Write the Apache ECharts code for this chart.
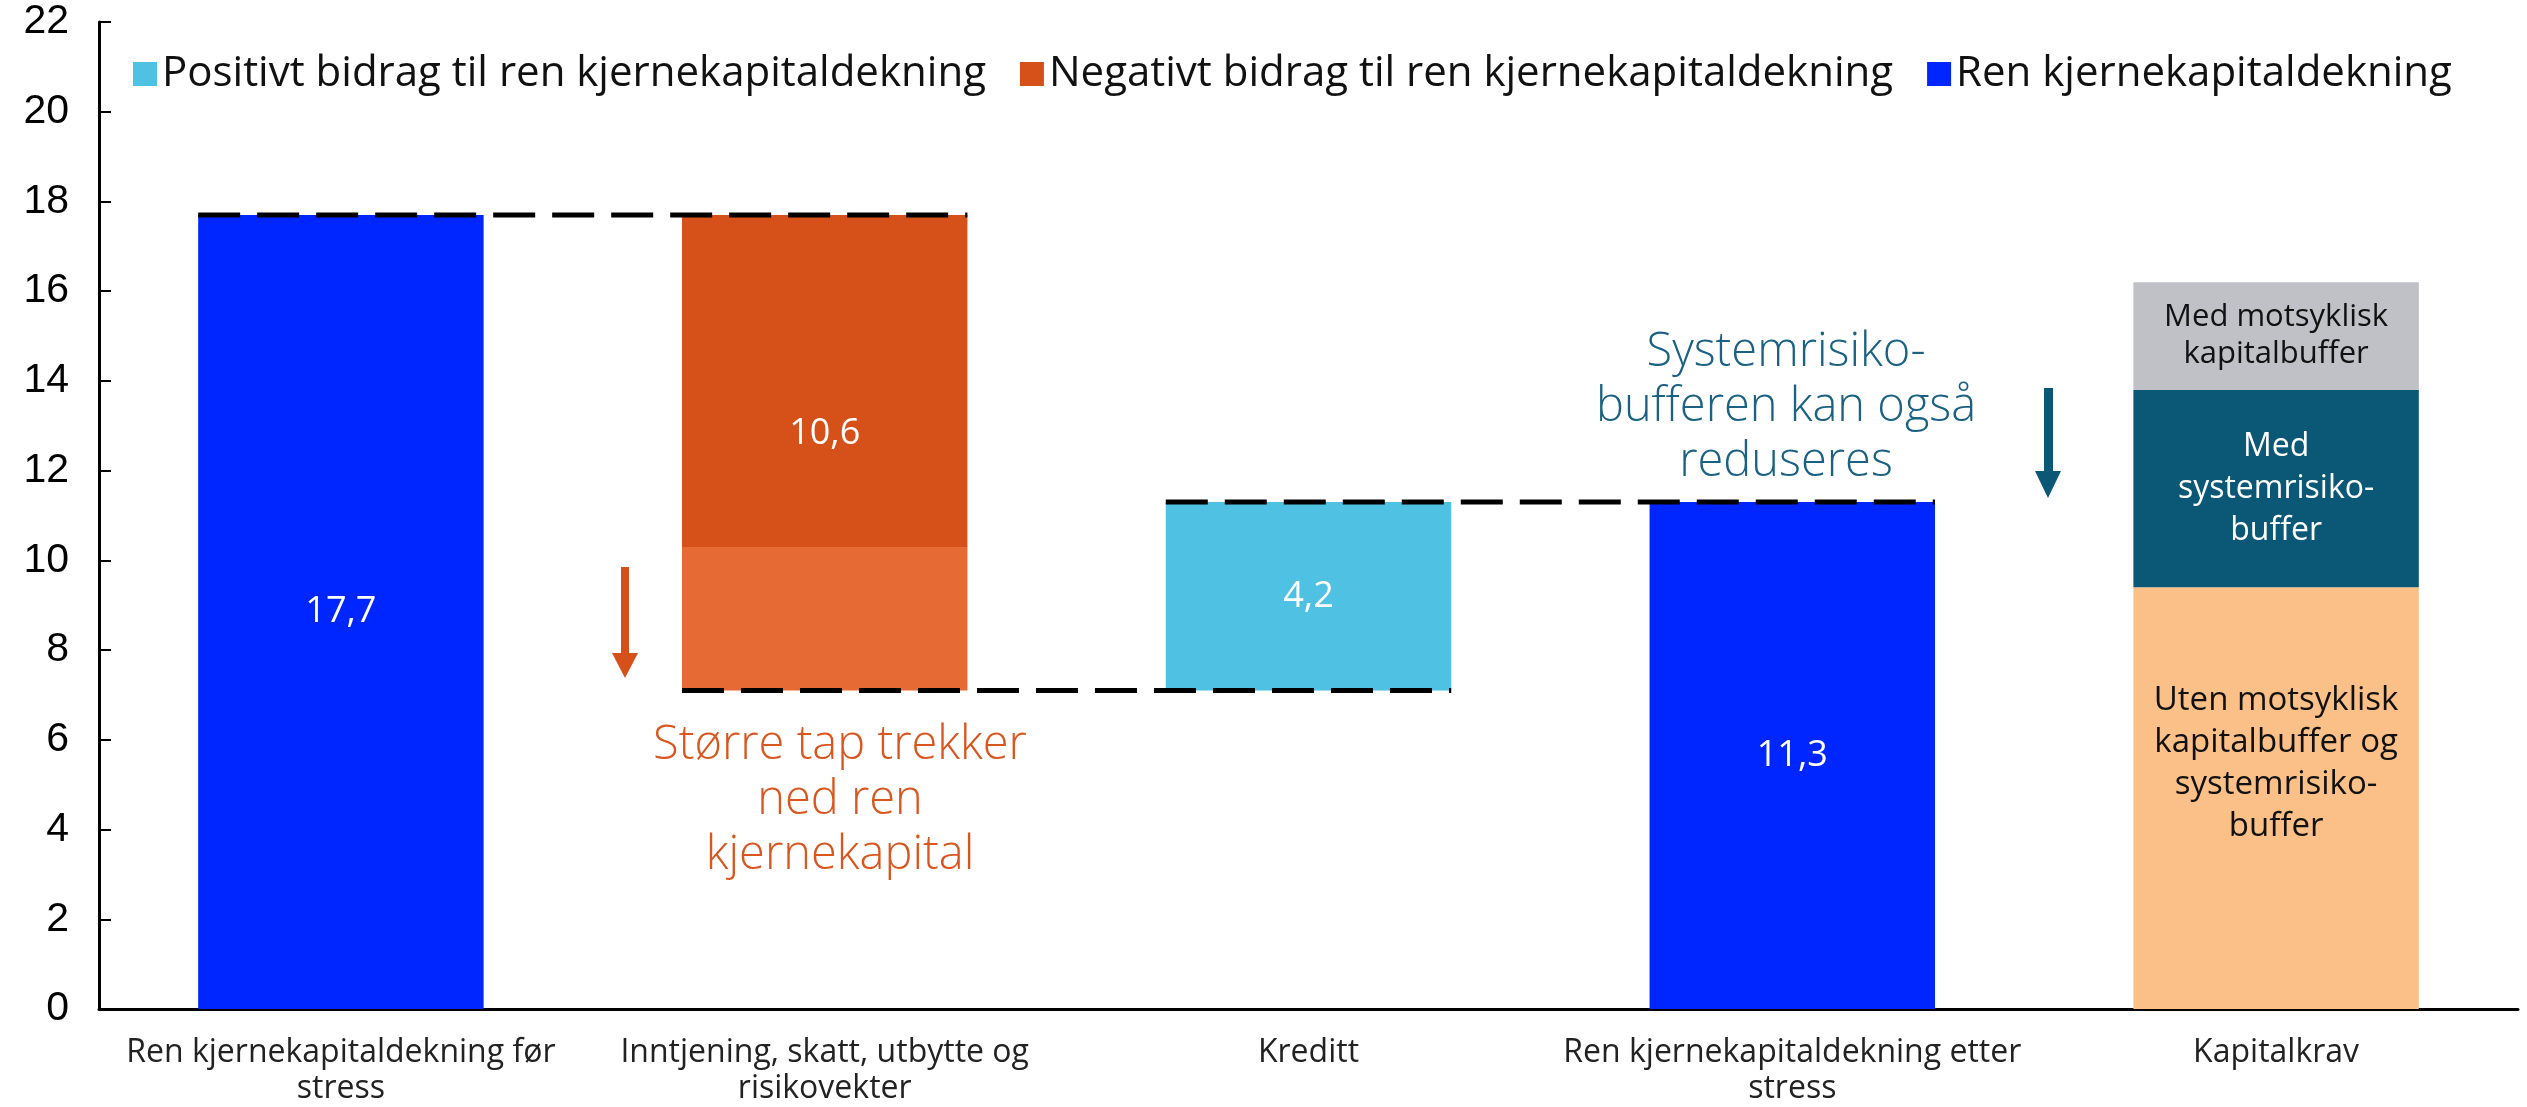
<!DOCTYPE html>
<html>
<head>
    <meta charset="utf-8">
    <title>Ren kjernekapitaldekning</title>
    <script src="https://cdn.jsdelivr.net/npm/echarts@6/dist/echarts.min.js"></script>
    <style>
        html, body { margin: 0; padding: 0; background: #fff; }
    </style>
</head>
<body>
    <div id="main" style="width: 2527px;height:1107px;"></div>
    <script type="text/javascript">
    // kategorier og verdier lest av figuren
    var categories = ['Ren kjernekapitaldekning før\nstress', 'Inntjening, skatt, utbytte og\nrisikovekter', 'Kreditt', 'Ren kjernekapitaldekning etter\nstress', 'Kapitalkrav'];
    var baseValues = [0, 7.1, 7.1, 0, 0];
    var negLower = ['-', 3.2, '-', '-', '-'];
    var negUpper = ['-', 7.4, '-', '-', '-'];
    var posValues = ['-', '-', 4.2, '-', '-'];
    var renValues = [17.7, '-', '-', 11.3, '-'];
    var kravBase = ['-', '-', '-', '-', 9.4];
    var kravSystem = ['-', '-', '-', '-', 4.4];
    var kravMotsyklisk = ['-', '-', '-', '-', 2.4];
    var valueLabels = ['17,7', '10,6', '4,2', '11,3', ''];
    var kravLabels = ['Uten motsyklisk\nkapitalbuffer og\nsystemrisiko-\nbuffer', 'Med\nsystemrisiko-\nbuffer', 'Med motsyklisk\nkapitalbuffer'];
    // stiplede linjer: fra kategori, til kategori, nivå
    var connectors = [[0, 1, 17.7], [1, 2, 7.1], [2, 3, 11.3]];
    var yTicks = [0, 22, 2];

    var legendNames = ['Positivt bidrag til ren kjernekapitaldekning', 'Negativt bidrag til ren kjernekapitaldekning', 'Ren kjernekapitaldekning'];
    var colors = {
        pos: '#4FC1E2',
        negDark: '#D6511A',
        negLight: '#E66A33',
        ren: '#0026FF',
        peach: '#FBC087',
        teal: '#0B5876',
        grey: '#BFC1C7'
    };
    var BAR_W = 0.59;
    var font = '"Open Sans", sans-serif';

    var myChart = echarts.init(document.getElementById('main'));

    var option = {
        animation: false,
        grid: {
            left: 99,
            right: 9,
            top: 22,
            bottom: 95
        },
        legend: {
            data: legendNames,
            left: 128,
            top: 48,
            icon: 'rect',
            itemWidth: 24,
            itemHeight: 24,
            itemGap: 34,
            selectedMode: false,
            textStyle: {
                fontFamily: font,
                fontSize: 42,
                color: '#111'
            }
        },
        xAxis: {
            type: 'category',
            data: categories,
            axisLine: { lineStyle: { color: '#000', width: 3 } },
            axisTick: { inside: true, length: 12, lineStyle: { color: '#000', width: 2 } },
            axisLabel: {
                fontFamily: font,
                fontSize: 32,
                color: '#222',
                lineHeight: 36,
                margin: 26,
                interval: 0
            }
        },
        yAxis: {
            type: 'value',
            min: yTicks[0],
            max: yTicks[1],
            interval: yTicks[2],
            splitLine: { show: false },
            axisLine: { show: true, lineStyle: { color: '#000', width: 3 } },
            axisTick: { show: true, inside: true, length: 12, lineStyle: { color: '#000', width: 2 } },
            axisLabel: {
                fontFamily: '"Liberation Sans", Arial, sans-serif',
                fontSize: 41,
                color: '#000',
                margin: 30
            }
        },
        series: [{
            name: 'base',
            type: 'bar',
            stack: 'total',
            barWidth: BAR_W * 100 + '%',
            itemStyle: { color: 'transparent' },
            data: baseValues
        }, {
            name: 'Negativt (nedre)',
            type: 'bar',
            stack: 'total',
            itemStyle: { color: colors.negLight },
            data: negLower
        }, {
            name: legendNames[1],
            type: 'bar',
            stack: 'total',
            itemStyle: { color: colors.negDark },
            label: {
                show: true,
                position: 'inside',
                offset: [0, 53],
                color: '#fff',
                fontFamily: font,
                fontSize: 36,
                formatter: function (p) { return valueLabels[p.dataIndex]; }
            },
            data: negUpper
        }, {
            name: legendNames[0],
            type: 'bar',
            stack: 'total',
            itemStyle: { color: colors.pos },
            label: {
                show: true,
                position: 'inside',
                color: '#fff',
                fontFamily: font,
                fontSize: 36,
                formatter: function (p) { return valueLabels[p.dataIndex]; }
            },
            data: posValues
        }, {
            name: legendNames[2],
            type: 'bar',
            stack: 'total',
            itemStyle: { color: colors.ren },
            label: {
                show: true,
                position: 'inside',
                color: '#fff',
                fontFamily: font,
                fontSize: 36,
                formatter: function (p) { return valueLabels[p.dataIndex]; }
            },
            data: renValues
        }, {
            name: 'Uten buffere',
            type: 'bar',
            stack: 'total',
            itemStyle: { color: colors.peach },
            label: {
                show: true,
                position: 'inside',
                offset: [0, -35],
                color: '#111',
                fontFamily: font,
                fontSize: 33,
                lineHeight: 42,
                formatter: kravLabels[0]
            },
            data: kravBase
        }, {
            name: 'Systemrisikobuffer',
            type: 'bar',
            stack: 'total',
            itemStyle: { color: colors.teal },
            label: {
                show: true,
                position: 'inside',
                color: '#fff',
                fontFamily: font,
                fontSize: 32,
                lineHeight: 42,
                formatter: kravLabels[1]
            },
            data: kravSystem
        }, {
            name: 'Motsyklisk buffer',
            type: 'bar',
            stack: 'total',
            itemStyle: { color: colors.grey },
            label: {
                show: true,
                position: 'inside',
                color: '#111',
                fontFamily: font,
                fontSize: 31,
                lineHeight: 37,
                formatter: kravLabels[2]
            },
            data: kravMotsyklisk
        }, {
            name: 'connectors',
            type: 'custom',
            z: 10,
            encode: { x: [0, 1], y: 2 },
            data: connectors,
            renderItem: function (params, api) {
                var y = api.value(2);
                var p1 = api.coord([api.value(0), y]);
                var p2 = api.coord([api.value(1), y]);
                var half = api.size([1, 0])[0] * BAR_W / 2;
                return {
                    type: 'line',
                    shape: { x1: p1[0] - half, y1: p1[1], x2: p2[0] + half, y2: p2[1] },
                    style: { stroke: '#000', lineWidth: 5, lineDash: [42, 17] }
                };
            }
        }],
        graphic: [{
            type: 'text',
            style: {
                text: 'Større tap trekker\nned ren\nkjernekapital',
                x: 840,
                y: 801,
                align: 'center',
                verticalAlign: 'middle',
                fill: '#D9561F',
                font: '300 47px "Open Sans", sans-serif',
                lineHeight: 55
            }
        }, {
            type: 'rect',
            shape: { x: 621, y: 567, width: 8, height: 88 },
            style: { fill: colors.negDark }
        }, {
            type: 'polygon',
            shape: { points: [[612, 653], [638, 653], [625, 678]] },
            style: { fill: colors.negDark }
        }, {
            type: 'text',
            style: {
                text: 'Systemrisiko-\nbufferen kan også\nreduseres',
                x: 1786,
                y: 408,
                align: 'center',
                verticalAlign: 'middle',
                fill: '#1A6183',
                font: '300 47px "Open Sans", sans-serif',
                lineHeight: 55
            }
        }, {
            type: 'rect',
            shape: { x: 2044, y: 388, width: 9, height: 85 },
            style: { fill: colors.teal }
        }, {
            type: 'polygon',
            shape: { points: [[2035, 471], [2061, 471], [2048, 498]] },
            style: { fill: colors.teal }
        }]
    };
    myChart.setOption(option);
    </script>
</body>
</html>
